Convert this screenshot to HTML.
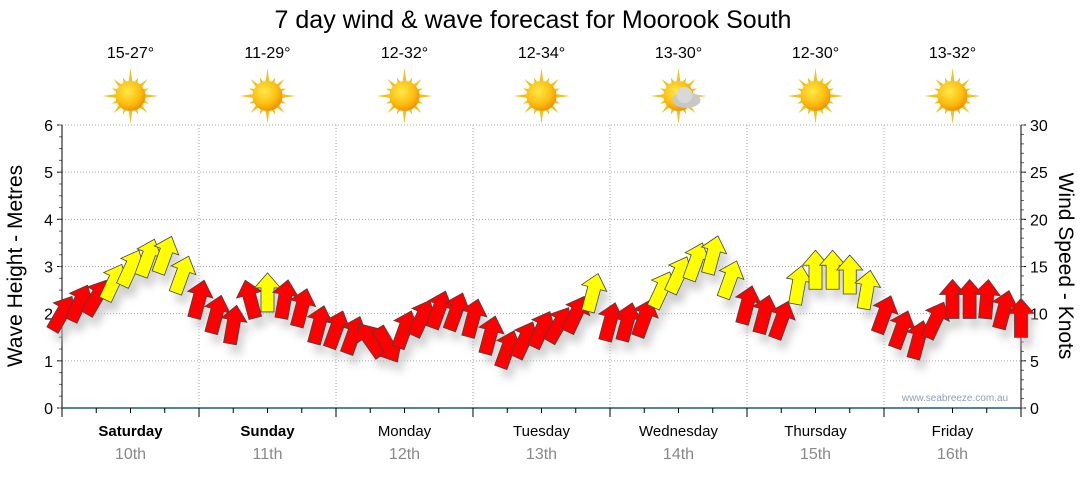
<!DOCTYPE html>
<html><head><meta charset="utf-8">
<style>
body{margin:0;background:#fff;}
svg text{font-family:"Liberation Sans","DejaVu Sans",sans-serif;}
</style></head>
<body>
<svg id="chart" width="1080" height="475" viewBox="0 0 1080 475" xmlns="http://www.w3.org/2000/svg">
<defs>
<radialGradient id="sunG" cx="0.4" cy="0.35" r="0.7">
<stop offset="0" stop-color="#ffe84a"/><stop offset="0.6" stop-color="#fcbf10"/><stop offset="1" stop-color="#f08a00"/>
</radialGradient>
<filter id="sh" x="-50%" y="-50%" width="200%" height="200%"><feGaussianBlur stdDeviation="4"/></filter>
</defs>
<text x="533" y="28" font-size="25" text-anchor="middle" fill="#000">7 day wind &amp; wave forecast for Moorook South</text>
<g id="grid"></g>
<g id="axes"></g>
<g id="shadows"></g>
<g id="arrows"></g>
<g id="days"></g>
<text x="955" y="401" font-size="10" fill="#8fa0b8" text-anchor="middle">www.seabreeze.com.au</text>
<text transform="translate(22,266) rotate(-90)" font-size="21" text-anchor="middle">Wave Height - Metres</text>
<text transform="translate(1059,266) rotate(90)" font-size="21" text-anchor="middle">Wind Speed - Knots</text>
</svg>
<script>
const dayNames=["Saturday","Sunday","Monday","Tuesday","Wednesday","Thursday","Friday"];
const dayDates=["10th","11th","12th","13th","14th","15th","16th"];
const temps=["15-27°","11-29°","12-32°","12-34°","13-30°","12-30°","13-32°"];
const waveTicks=[0,1,2,3,4,5,6];
const windTicks=[0,5,10,15,20,25,30];
const windSpeed=[10,11.1,11.7,13.3,14.8,15.9,16.2,14.1,11.5,9.9,8.8,11.5,12.2,11.5,10.6,8.8,8.3,7.7,7.2,6.7,8.3,9.5,10.4,10.2,9.5,7.7,6.2,7.2,8.3,8.8,9.9,12.2,9.1,9.1,9.5,12.5,14.1,15.5,16.2,13.6,10.9,9.9,9.3,13,14.6,14.6,14.1,12.5,9.9,8.3,7.2,9.3,11.5,11.5,11.5,10.4,9.5];
const windDir=[30,25,30,25,25,20,20,20,15,15,10,-15,0,10,15,15,20,20,-35,150,20,25,20,20,15,15,20,25,25,30,25,15,15,15,20,25,25,20,15,20,15,15,20,10,0,0,0,10,20,20,15,25,0,0,5,15,0];
const X0=62,X1=1021,Y0=408,Y1=125;
const xH=h=>X0+(X1-X0)*h/168;
const yW=m=>Y0-(Y0-Y1)*m/6;
const yK=k=>Y0-(Y0-Y1)*k/30;
const NS="http://www.w3.org/2000/svg";
function mk(tag,attrs,parent){const e=document.createElementNS(NS,tag);for(const k in attrs)e.setAttribute(k,attrs[k]);parent.appendChild(e);return e;}
const grid=document.getElementById('grid'),axes=document.getElementById('axes');
waveTicks.forEach((t,i)=>{
 if(t>0){const g=mk('line',{x1:X0,x2:X1,y1:yW(t),y2:yW(t),stroke:'#aaa','stroke-dasharray':'1,2'},grid);
 
 }
 const l=mk('text',{x:X0-9,y:yW(t)+6,'font-size':16,'text-anchor':'end'},axes);l.textContent=t;
 
 
 mk('line',{x1:X0-5,x2:X0,y1:yW(t),y2:yW(t),stroke:'#000'},axes);
});
windTicks.forEach(t=>{
 const l=mk('text',{x:X1+9,y:yK(t)+6,'font-size':16},axes);l.textContent=t;
 
 
 mk('line',{x1:X1,x2:X1+5,y1:yK(t),y2:yK(t),stroke:'#000'},axes);
});
for(let k=0;k<=30;k++){mk('line',{x1:X1,x2:X1+3,y1:yK(k),y2:yK(k),stroke:'#666'},axes);}
for(let m=0;m<=24;m++){mk('line',{x1:X0-3,x2:X0,y1:yW(m/4),y2:yW(m/4),stroke:'#666'},axes);}
mk('line',{x1:X0,x2:X0,y1:Y1,y2:Y0,stroke:'#000'},axes);
mk('line',{x1:X1,x2:X1,y1:Y1,y2:Y0,stroke:'#000'},axes);
mk('line',{x1:X0,x2:X1,y1:Y0,y2:Y0,stroke:'#1a5a8a','stroke-width':1.5},axes);
for(let h=0;h<=168;h+=6){const maj=h%24==0;mk('line',{x1:xH(h),x2:xH(h),y1:Y0,y2:Y0+(maj?9:5),stroke:'#000'},axes);
 if(maj&&h>0&&h<168){const g=mk('line',{x1:xH(h),x2:xH(h),y1:Y1,y2:Y0,stroke:'#aaa','stroke-dasharray':'1,2'},grid);
 
 }}
const days=document.getElementById('days');
dayNames.forEach((d,i)=>{
 const cx=xH(i*24+12);
 const t=mk('text',{x:cx,y:436,'font-size':15,'text-anchor':'middle','font-weight':i<2?'bold':'normal'},days);t.textContent=d;
 
 
 const t2=mk('text',{x:cx,y:459,'font-size':16,'text-anchor':'middle',fill:'#888'},days);t2.textContent=dayDates[i];
 
 
 const t3=mk('text',{x:cx,y:58,'font-size':16,'text-anchor':'middle'},days);t3.textContent=temps[i];
 
 
 const g=mk('g',{transform:`translate(${cx},96)`},days);
 
 
 for(let a=0;a<16;a++){const r=a%4==0?28:(a%2?20:24);const ang=a*Math.PI/8;
  const p1=[Math.cos(ang)*r,Math.sin(ang)*r],pa=[Math.cos(ang+0.16)*13,Math.sin(ang+0.16)*13],pb=[Math.cos(ang-0.16)*13,Math.sin(ang-0.16)*13];
  mk('polygon',{points:`${p1}  ${pa} ${pb}`,fill:'#f4c020'},g);}
 mk('circle',{r:15,fill:'url(#sunG)'},g);
 if(i==4){mk('ellipse',{cx:8,cy:4,rx:14,ry:8,fill:'#c8c8c8'},g);mk('circle',{cx:6,cy:-1,r:8,fill:'#d8d8d8'},g);}
});
const arrows=document.getElementById('arrows'),shadows=document.getElementById('shadows');
const shape="0,-20 13,-5 6.5,-5 6.5,19 -6.5,19 -6.5,-5 -13,-5";
windSpeed.forEach((v,i)=>{
 const x=xH(i*3),y=yK(v);
 mk('polygon',{points:shape,fill:'#bbb',filter:'url(#sh)',opacity:0.6,transform:`translate(${x+5},${y+10}) rotate(${windDir[i]})`},shadows);
 const a=mk('polygon',{points:shape,fill:v>=12?'#ffff00':'#ff0000',stroke:'#444','stroke-width':0.8,transform:`translate(${x},${y}) rotate(${windDir[i]})`},arrows);
 
 
});
</script>
</body></html>
